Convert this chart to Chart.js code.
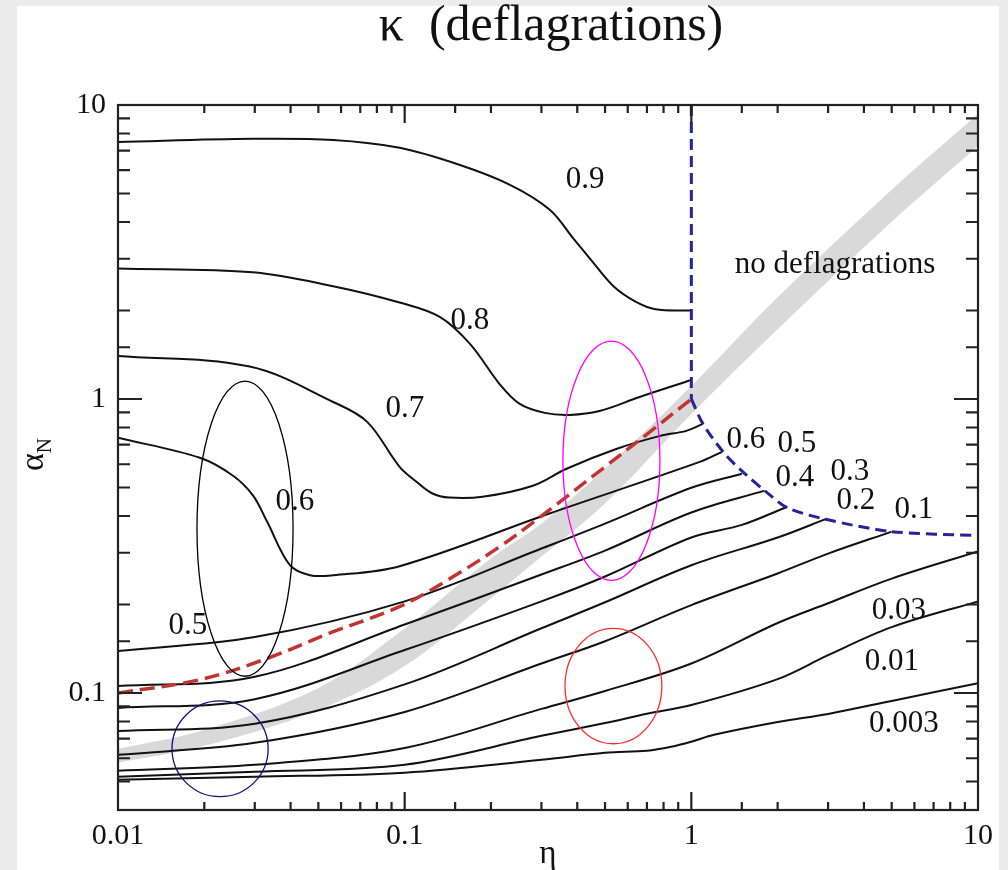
<!DOCTYPE html>
<html>
<head>
<meta charset="utf-8">
<title>kappa (deflagrations)</title>
<script src="https://cdn.jsdelivr.net/npm/chart.js@4.4.1/dist/chart.umd.min.js"></script>
<style>
  html, body { margin: 0; padding: 0; background: #ececec; }
  canvas { display: block; }
</style>
</head>
<body>
<canvas id="kappaChart" width="1008" height="870" style="width:1008px;height:870px"></canvas>
<script>
// kappa contours, [eta, alpha_N] pairs
const kappa09 = [[0.01, 7.49], [0.0295, 7.67], [0.0563, 7.6], [0.096, 7.15], [0.155, 6.26], [0.233, 5.35], [0.32, 4.41], [0.39, 3.49], [0.46, 2.87], [0.54, 2.4], [0.636, 2.15], [0.75, 2.02], [1, 2.0]];
const kappa08 = [[0.01, 2.78], [0.0295, 2.70], [0.0563, 2.42], [0.096, 2.13], [0.133, 1.90], [0.169, 1.54], [0.215, 1.12], [0.252, 0.962], [0.308, 0.897], [0.377, 0.883], [0.478, 0.91], [0.66, 1.016], [1, 1.16]];
const kappa07 = [[0.01, 1.40], [0.0288, 1.29], [0.0563, 0.977], [0.074, 0.836], [0.096, 0.588], [0.110, 0.523], [0.125, 0.477], [0.143, 0.462], [0.187, 0.465], [0.28, 0.507], [0.367, 0.579], [0.55, 0.677], [0.778, 0.749], [0.96, 0.779], [1.098, 0.823]];
const kappa06 = [[0.01, 0.738], [0.0193, 0.631], [0.0252, 0.548], [0.0296, 0.469], [0.0331, 0.383], [0.0398, 0.272], [0.0467, 0.2515], [0.0563, 0.2515], [0.096, 0.27], [0.32, 0.408], [1.07, 0.611], [1.28, 0.661]];
const kappa05 = [[0.01, 0.139], [0.03, 0.155], [0.1, 0.205], [0.3, 0.31], [0.5, 0.377], [1, 0.499], [1.5, 0.557]];
const kappa04 = [[0.01, 0.1056], [0.03, 0.1135], [0.1, 0.171], [0.3, 0.253], [0.5, 0.305], [1, 0.411], [1.8, 0.488]];
const kappa03 = [[0.01, 0.089], [0.03, 0.0953], [0.1, 0.140], [0.3, 0.205], [0.5, 0.249], [1, 0.338], [1.5, 0.373], [2.16, 0.43]];
const kappa02 = [[0.01, 0.0743], [0.03, 0.0786], [0.1, 0.107], [0.3, 0.166], [0.5, 0.2035], [1, 0.272], [2, 0.338], [2.97, 0.392]];
const kappa01 = [[0.01, 0.0616], [0.03, 0.0677], [0.1, 0.0862], [0.3, 0.126], [0.5, 0.150], [1, 0.199], [2, 0.255], [3, 0.298], [5.0, 0.354]];
const kappa003 = [[0.01, 0.0544], [0.03, 0.057], [0.1, 0.065], [0.3, 0.0883], [0.5, 0.1016], [1, 0.126], [2, 0.173], [3, 0.202], [5, 0.245], [10, 0.303]];
const kappa001 = [[0.01, 0.0519], [0.03, 0.054], [0.1, 0.057], [0.3, 0.0715], [0.5, 0.079], [0.7, 0.085], [1, 0.091], [2, 0.1115], [3, 0.1345], [5, 0.1675], [10, 0.205]];
const kappa0003 = [[0.01, 0.0507], [0.03, 0.0519], [0.1, 0.0536], [0.3, 0.0593], [0.5, 0.0626], [0.7, 0.0636], [0.85, 0.0656], [1, 0.0683], [1.2, 0.0721], [2, 0.0797], [3, 0.0849], [5, 0.094], [10, 0.108]];

// red dashed line and the blue no-deflagration border
const redDashed = [[0.01, 0.1], [0.0193, 0.111], [0.0331, 0.131], [0.0549, 0.16], [0.0963, 0.197], [0.144, 0.245], [0.215, 0.315], [0.28, 0.38], [0.48, 0.57], [0.717, 0.773], [1, 1]];
const borderVertical = [[1, 10], [1, 1]];
const borderCurve = [[1, 1], [1.098, 0.823], [1.30, 0.656], [1.51, 0.566], [1.82, 0.484], [2.16, 0.427], [2.97, 0.389], [5.0, 0.354], [10, 0.343]];

// grey band, lower and upper edge
const bandLow = [[0.01, 0.0579], [0.02, 0.0661], [0.05, 0.0876], [0.1, 0.1235], [0.2, 0.21], [0.3, 0.291], [0.5, 0.441], [1, 0.889], [2, 1.727], [5, 4.01], [10, 7.26]];
const bandHigh = [[0.01, 0.0646], [0.02, 0.0749], [0.05, 0.104], [0.1, 0.166], [0.2, 0.287], [0.3, 0.377], [0.5, 0.579], [1, 1.107], [2, 2.217], [5, 5.15], [10, 9.32]];

// contour labels: text, eta, alpha_N
const curveLabels = [
  ['0.9', 0.4257, 5.57], ['0.8', 0.169, 1.838], ['0.7', 0.1002, 0.925],
  ['0.6', 0.0414, 0.4477], ['0.5', 0.01754, 0.1687],
  ['0.6', 1.55, 0.726], ['0.5', 2.335, 0.704], ['0.4', 2.298, 0.54],
  ['0.3', 3.574, 0.566], ['0.2', 3.751, 0.451], ['0.1', 5.974, 0.4204],
  ['0.03', 5.30, 0.191], ['0.01', 5.01, 0.1274], ['0.003', 5.51, 0.0785],
  ['no deflagrations', 3.17, 2.87]
];

// marked regions: eta range, alpha_N range
const rings = [
  { eta: [0.01886, 0.0408], alpha: [0.114, 1.151], color: '#000000' },
  { eta: [0.3565, 0.777], alpha: [0.2415, 1.573], color: '#ff00ff' },
  { eta: [0.3625, 0.789], alpha: [0.0672, 0.166], color: '#ff2a2a' },
  { eta: [0.01543, 0.0334], alpha: [0.0444, 0.094], color: '#10107a' }
];

const xTickLabels = ['0.01', '0.1', '1', '10'];
const yTickLabels = ['0.1', '1', '10'];

const serif = "'Liberation Serif', 'Times New Roman', serif";

function line(points, opts) {
  return Object.assign({
    data: points.map(p => ({ x: p[0], y: p[1] })),
    showLine: true,
    pointRadius: 0,
    borderColor: '#111111',
    borderWidth: 2,
    tension: 0.35,
    fill: false,
    order: 1
  }, opts);
}

function isDecade(v) {
  const p = Math.log10(v);
  return Math.abs(p - Math.round(p)) < 1e-6;
}

function tickText(labels) {
  return function (value) {
    const hit = labels.find(l => Math.abs(Number(l) - value) < value * 1e-6);
    return hit || '';
  };
}

const decor = {
  id: 'decor',
  beforeDraw(chart) {
    const ctx = chart.ctx;
    ctx.save();
    ctx.fillStyle = '#ececec';
    ctx.fillRect(0, 0, chart.width, chart.height);
    ctx.fillStyle = '#ffffff';
    ctx.fillRect(17, 6, 982, chart.height - 6);
    ctx.restore();
  },
  afterDatasetsDraw(chart) {
    const { ctx, scales: { x, y } } = chart;
    ctx.save();
    rings.forEach(r => {
      const x0 = x.getPixelForValue(r.eta[0]);
      const x1 = x.getPixelForValue(r.eta[1]);
      const y0 = y.getPixelForValue(r.alpha[1]);
      const y1 = y.getPixelForValue(r.alpha[0]);
      ctx.beginPath();
      ctx.ellipse((x0 + x1) / 2, (y0 + y1) / 2, (x1 - x0) / 2, (y1 - y0) / 2, 0, 0, Math.PI * 2);
      ctx.strokeStyle = r.color;
      ctx.lineWidth = 1.3;
      ctx.stroke();
    });
    ctx.fillStyle = '#111111';
    ctx.textAlign = 'center';
    ctx.textBaseline = 'middle';
    ctx.font = '31px ' + serif;
    curveLabels.forEach(([text, eta, alpha]) => {
      ctx.fillText(text, x.getPixelForValue(eta), y.getPixelForValue(alpha));
    });
    ctx.restore();
  },
  afterDraw(chart) {
    const { ctx, chartArea: a, scales: { x, y } } = chart;
    ctx.save();
    ctx.strokeStyle = '#222222';
    ctx.lineWidth = 2.2;
    ctx.strokeRect(a.left, a.top, a.right - a.left, a.bottom - a.top);

    // inward ticks on all four sides
    ctx.beginPath();
    x.ticks.forEach(t => {
      if (t.value <= x.min || t.value >= x.max) return;
      const px = x.getPixelForValue(t.value);
      const len = isDecade(t.value) ? 18 : 8;
      ctx.moveTo(px, a.bottom); ctx.lineTo(px, a.bottom - len);
      ctx.moveTo(px, a.top); ctx.lineTo(px, a.top + len);
    });
    y.ticks.forEach(t => {
      if (t.value <= y.min || t.value >= y.max) return;
      const py = y.getPixelForValue(t.value);
      const len = isDecade(t.value) ? 24 : 12;
      ctx.moveTo(a.left, py); ctx.lineTo(a.left + len, py);
      ctx.moveTo(a.right, py); ctx.lineTo(a.right - len, py);
    });
    ctx.stroke();

    // titles
    ctx.fillStyle = '#111111';
    ctx.textAlign = 'center';
    ctx.textBaseline = 'alphabetic';
    ctx.font = '50px ' + serif;
    ctx.fillText('\u03ba  (deflagrations)', 551, 40);
    ctx.font = '33px ' + serif;
    ctx.fillText('\u03b7', (a.left + a.right) / 2, 863);

    ctx.translate(43, 471);
    ctx.rotate(-Math.PI / 2);
    ctx.textAlign = 'left';
    ctx.font = '34px ' + serif;
    ctx.fillText('\u03b1', 0, 0);
    const w = ctx.measureText('\u03b1').width;
    ctx.font = '21px ' + serif;
    ctx.fillText('N', w, 8);
    ctx.restore();
  }
};

const ctx = document.getElementById('kappaChart').getContext('2d');
new Chart(ctx, {
  type: 'scatter',
  data: {
    datasets: [
      line(borderVertical, { borderColor: '#23239c', borderWidth: 3, borderDash: [11, 6], tension: 0, order: 0 }),
      line(borderCurve, { borderColor: '#23239c', borderWidth: 3, borderDash: [11, 6], tension: 0.3, order: 0 }),
      line(redDashed, { borderColor: '#c2342f', borderWidth: 3.5, borderDash: [15, 7], order: 0 }),
      line(kappa09), line(kappa08), line(kappa07), line(kappa06),
      line(kappa05), line(kappa04), line(kappa03), line(kappa02),
      line(kappa01), line(kappa003), line(kappa001), line(kappa0003),
      line(bandLow, { borderWidth: 0, borderColor: 'rgba(0,0,0,0)', order: 10 }),
      line(bandHigh, { borderWidth: 0, borderColor: 'rgba(0,0,0,0)', backgroundColor: '#d9d9d9', fill: '-1', order: 9 })
    ]
  },
  options: {
    responsive: false,
    animation: false,
    layout: { padding: { top: 105, right: 30, bottom: 0, left: 0 } },
    plugins: { legend: { display: false }, tooltip: { enabled: false } },
    scales: {
      x: {
        type: 'logarithmic',
        min: 0.01,
        max: 10,
        grid: { display: false, drawTicks: false },
        border: { display: false },
        ticks: {
          autoSkip: false, maxRotation: 0, padding: 8, color: '#111111',
          font: { family: serif, size: 30 },
          callback: tickText(xTickLabels)
        },
        afterFit(scale) { scale.height = 60; }
      },
      y: {
        type: 'logarithmic',
        min: 0.04,
        max: 10,
        grid: { display: false, drawTicks: false },
        border: { display: false },
        ticks: {
          autoSkip: false, padding: 12, color: '#111111',
          font: { family: serif, size: 30 },
          callback: tickText(yTickLabels)
        },
        afterFit(scale) { scale.width = 118; }
      }
    }
  },
  plugins: [decor]
});
</script>
</body>
</html>
